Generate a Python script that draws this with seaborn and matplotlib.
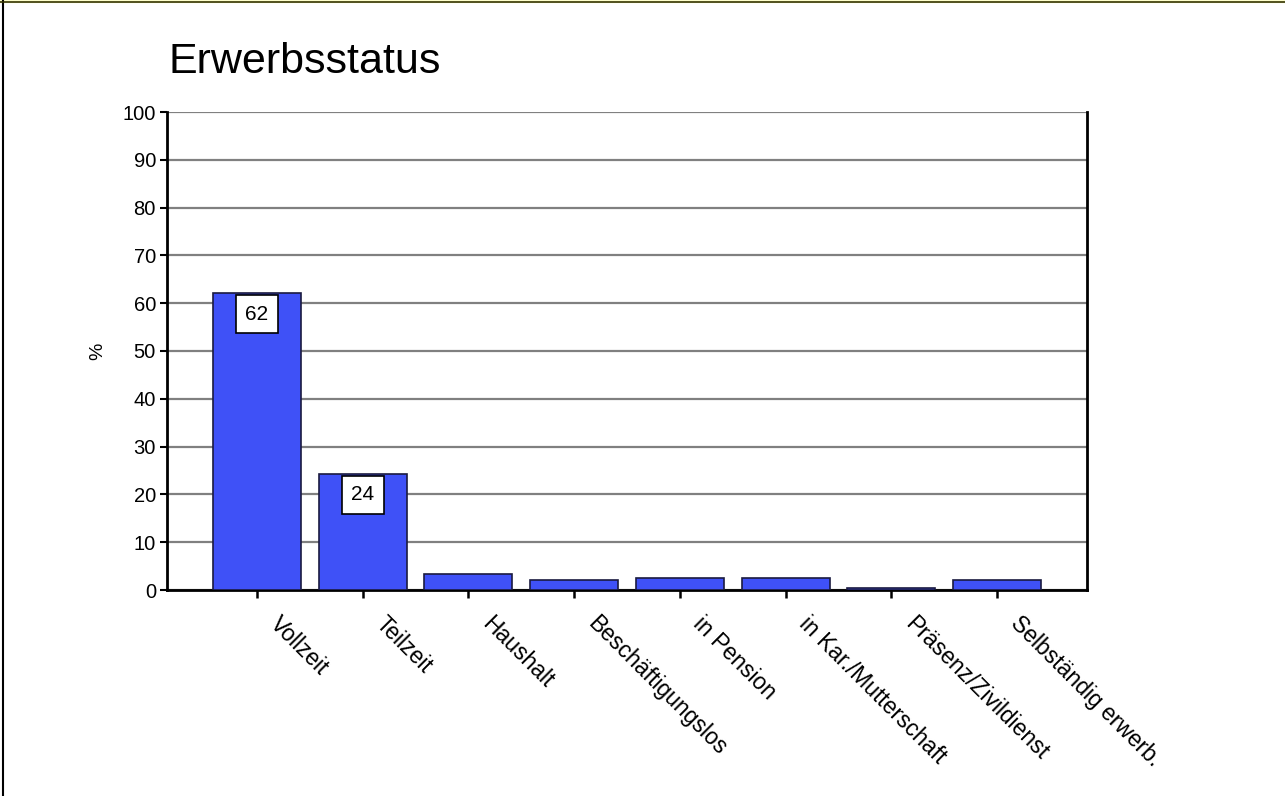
import matplotlib
matplotlib.use("Agg")
import matplotlib.pyplot as plt
import matplotlib.transforms as mtransforms
import seaborn as sns
import pandas as pd

categories = ["Vollzeit", "Teilzeit", "Haushalt", "Beschäftigungslos", "in Pension",
              "in Kar./Mutterschaft", "Präsenz/Zivildienst", "Selbständig erwerb."]
values = [62.1, 24.3, 3.3, 2.1, 2.5, 2.5, 0.4, 2.1]
shown_labels = {0: "62", 1: "24"}
y_ticks = list(range(0, 101, 10))

sns.set_theme(style="white")
plt.rcParams["font.family"] = ["Liberation Sans", "DejaVu Sans"]
plt.rcParams["text.color"] = "black"
plt.rcParams["xtick.color"] = "black"
plt.rcParams["ytick.color"] = "black"
plt.rcParams["axes.labelcolor"] = "black"

df = pd.DataFrame({"status": categories, "pct": values})

fig = plt.figure(figsize=(12.85, 7.96), dpi=100)
ax = fig.add_axes([167 / 1285, 1 - 590 / 796, 920 / 1285, 478 / 796])

sns.barplot(data=df, x="status", y="pct", color="#3f51f7", saturation=1,
            width=0.83, edgecolor="#1a1a40", linewidth=1.2, ax=ax, zorder=3)

ax.set_xlim(-0.85, len(categories) - 0.15)
ax.set_ylim(0, 100)
ax.set_yticks(y_ticks)
ax.set_yticklabels([str(t) for t in y_ticks], fontsize=14.5)
ax.yaxis.grid(True, color="#808080", linewidth=1.6, zorder=0)
ax.tick_params(axis="y", left=True, length=5, width=1.5, color="black", pad=3)
ax.tick_params(axis="x", bottom=True, length=6, width=1.8, color="black", pad=2)

for side in ["left", "bottom", "right"]:
    ax.spines[side].set_visible(True)
    ax.spines[side].set_color("black")
    ax.spines[side].set_linewidth(2)
ax.spines["top"].set_visible(False)

ax.set_xticks(range(len(categories)))
ax.set_xticklabels(categories, rotation=-45, ha="left", va="top",
                   rotation_mode="anchor", fontsize=16.5)
shift = mtransforms.ScaledTranslation(18 / 72, -8 / 72, fig.dpi_scale_trans)
for lbl in ax.get_xticklabels():
    lbl.set_transform(lbl.get_transform() + shift)

ax.set_xlabel("")
ax.set_ylabel("%", fontsize=14, labelpad=12)

for i, txt in shown_labels.items():
    ax.text(i, values[i] - 4.4, txt, ha="center", va="center", fontsize=15,
            zorder=5, bbox=dict(boxstyle="square,pad=0.45", fc="white",
                                ec="black", lw=1.2))

fig.text(168 / 1285, 1 - 62 / 796, "Erwerbsstatus", fontsize=31,
         va="center", ha="left")

# page frame
fig.add_artist(plt.Line2D([3 / 1285, 3 / 1285], [0, 1], color="black", lw=1.5))
fig.add_artist(plt.Line2D([0, 1], [1 - 2 / 796, 1 - 2 / 796], color="#333300", lw=1.2))
fig.add_artist(plt.Rectangle((0, 1 - 2 / 796), 1, 2 / 796, color="#ffffcc",
                             transform=fig.transFigure))

fig.savefig("out.png", dpi=100)
